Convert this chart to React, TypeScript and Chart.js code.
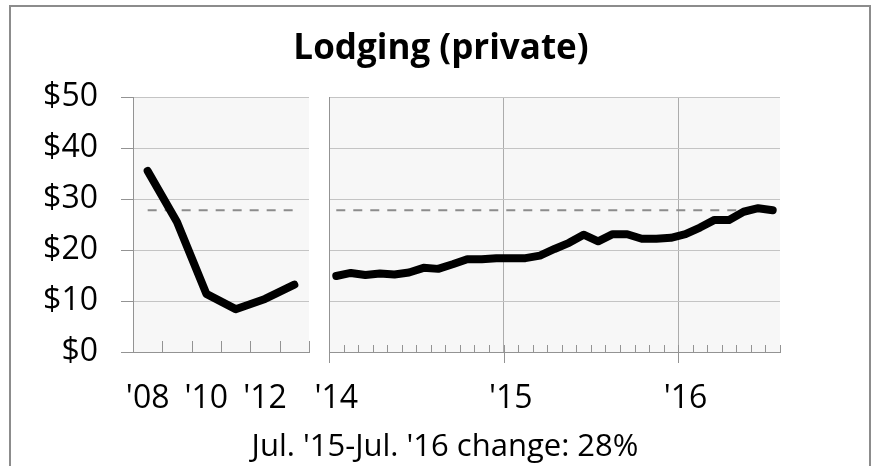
import React, { useEffect, useRef } from "react";
import { Chart, registerables } from "chart.js";

Chart.register(...registerables);

// ---------- data ----------
const titleText = "Lodging (private)";
const footnoteText = "Jul. '15-Jul. '16 change: 28%";

const yTickValues = [0, 10, 20, 30, 40, 50];

const annualCategories = ["'08", "'09", "'10", "'11", "'12", "'13"];
const annualShownTicks = ["'08", "'10", "'12"];
const annualValues = [35.5, 25.5, 11.4, 8.4, 10.4, 13.2];

const monthCategories = [
  "Jan '14", "Feb '14", "Mar '14", "Apr '14", "May '14", "Jun '14",
  "Jul '14", "Aug '14", "Sep '14", "Oct '14", "Nov '14", "Dec '14",
  "Jan '15", "Feb '15", "Mar '15", "Apr '15", "May '15", "Jun '15",
  "Jul '15", "Aug '15", "Sep '15", "Oct '15", "Nov '15", "Dec '15",
  "Jan '16", "Feb '16", "Mar '16", "Apr '16", "May '16", "Jun '16",
  "Jul '16",
];
const monthlyValues = [
  14.9, 15.5, 15.1, 15.4, 15.2, 15.6,
  16.5, 16.3, 17.2, 18.2, 18.2, 18.4,
  18.4, 18.4, 18.9, 20.2, 21.4, 23.0,
  21.7, 23.1, 23.1, 22.2, 22.2, 22.4,
  23.1, 24.4, 25.9, 25.9, 27.5, 28.2,
  27.8,
];
const yearStartCategories = ["Jan '14", "Jan '15", "Jan '16"];
const yearTickLabels = ["'14", "'15", "'16"];

const referenceLevel = 27.8;

// ---------- styles ----------
const W = 871;
const H = 466;
const FONT = "'Open Sans', 'Noto Sans', sans-serif";
const PLOT_BG = "#f7f7f7";
const GRID = "#c4c4c4";
const AXIS = "#939393";
const YEAR_GRID = "#acacac";

const panelPlugin = {
  id: "panelDeco",
  beforeDraw(chart: any, _args: any, opts: any) {
    const { ctx, chartArea: a } = chart;
    ctx.save();
    ctx.fillStyle = opts.bg;
    ctx.fillRect(a.left, a.top, a.right - a.left, a.bottom - a.top);
    ctx.restore();
  },
  afterDraw(chart: any, _args: any, opts: any) {
    const { ctx, chartArea: a } = chart;
    const xs = chart.scales.x;
    const n = chart.data.labels.length;
    const step = xs.getPixelForValue(1) - xs.getPixelForValue(0);
    const boundary = (b: number) => Math.round(xs.getPixelForValue(b) - step / 2) + 0.5;
    ctx.save();
    ctx.strokeStyle = opts.tickColor;
    ctx.lineWidth = 1;
    ctx.beginPath();
    for (let b = 1; b <= n; b++) {
      const px = boundary(b);
      ctx.moveTo(px, a.bottom);
      ctx.lineTo(px, a.bottom - opts.minorLen);
    }
    (opts.majorIdx || []).forEach((m: number) => {
      const px = boundary(m);
      ctx.moveTo(px, a.bottom);
      ctx.lineTo(px, a.bottom + opts.majorLen);
    });
    ctx.stroke();
    ctx.restore();
  },
};

function baseYScale(showLabels: boolean) {
  return {
    min: 0,
    max: 50,
    afterBuildTicks(scale: any) {
      scale.ticks = yTickValues.map((v) => ({ value: v }));
    },
    afterFit(scale: any) {
      scale.width = showLabels ? 133 : 0;
    },
    border: { display: true, color: AXIS, width: 1 },
    grid: {
      color: (c: any) => (c.tick && c.tick.value === 0 ? AXIS : GRID),
      lineWidth: 1,
      drawTicks: showLabels,
      tickLength: 12,
      tickColor: AXIS,
    },
    ticks: {
      display: showLabels,
      padding: 23,
      color: "#000",
      font: { family: FONT, size: 32 },
      callback: (v: any) => "$" + v,
    },
  };
}

function xTickFont() {
  return { family: FONT, size: 32 };
}

export default function App() {
  const leftRef = useRef<HTMLCanvasElement>(null);
  const rightRef = useRef<HTMLCanvasElement>(null);

  useEffect(() => {
    const common: any = {
      responsive: false,
      animation: false,
      devicePixelRatio: 1,
      plugins: { legend: { display: false }, tooltip: { enabled: false } },
      elements: { point: { radius: 0 } },
    };

    const left = new Chart(leftRef.current as HTMLCanvasElement, {
      type: "line",
      data: {
        labels: annualCategories,
        datasets: [
          {
            data: annualValues,
            borderColor: "#000",
            borderWidth: 8,
            borderCapStyle: "round",
            borderJoinStyle: "round",
            tension: 0,
            pointRadius: 0,
            order: 0,
          },
          {
            data: annualCategories.map(() => referenceLevel),
            borderColor: "#8c8c8c",
            borderWidth: 2,
            borderDash: [9, 8],
            pointRadius: 0,
            order: 1,
          },
        ],
      } as any,
      options: {
        ...common,
        layout: { padding: { left: 0, right: W - 309, top: 97, bottom: H - 352 - 60 } },
        scales: {
          x: {
            offset: true,
            afterFit(scale: any) {
              scale.height = 60;
            },
            border: { display: true, color: AXIS, width: 1 },
            grid: { display: false, drawTicks: false, offset: true },
            ticks: {
              autoSkip: false,
              maxRotation: 0,
              padding: 28,
              color: "#000",
              font: xTickFont(),
              callback: (_v: any, i: number) =>
                annualShownTicks.includes(annualCategories[i]) ? annualCategories[i] : "",
            },
          },
          y: baseYScale(true),
        },
        plugins: {
          ...common.plugins,
          panelDeco: { bg: PLOT_BG, tickColor: AXIS, minorLen: 11, majorIdx: [] },
        },
      } as any,
      plugins: [panelPlugin],
    });

    const majorIdx = yearStartCategories.map((c) => monthCategories.indexOf(c));

    const right = new Chart(rightRef.current as HTMLCanvasElement, {
      type: "line",
      data: {
        labels: monthCategories,
        datasets: [
          {
            data: monthlyValues,
            borderColor: "#000",
            borderWidth: 8,
            borderCapStyle: "round",
            borderJoinStyle: "round",
            tension: 0,
            pointRadius: 0,
            order: 0,
          },
          {
            data: monthCategories.map(() => referenceLevel),
            borderColor: "#8c8c8c",
            borderWidth: 2,
            borderDash: [9, 8],
            pointRadius: 0,
            order: 1,
          },
        ],
      } as any,
      options: {
        ...common,
        layout: { padding: { left: 329, right: W - 780, top: 97, bottom: H - 352 - 60 } },
        scales: {
          x: {
            offset: true,
            afterFit(scale: any) {
              scale.height = 60;
            },
            border: { display: true, color: AXIS, width: 1 },
            grid: {
              display: true,
              offset: true,
              drawTicks: false,
              lineWidth: 1,
              color: (c: any) =>
                c.type === "tick" && c.index > 0 && majorIdx.includes(c.index)
                  ? YEAR_GRID
                  : "rgba(0,0,0,0)",
            },
            ticks: {
              autoSkip: false,
              maxRotation: 0,
              padding: 28,
              color: "#000",
              font: xTickFont(),
              callback: (_v: any, i: number) => {
                const k = yearStartCategories.indexOf(monthCategories[i]);
                return k >= 0 ? yearTickLabels[k] : "";
              },
            },
          },
          y: baseYScale(false),
        },
        plugins: {
          ...common.plugins,
          panelDeco: { bg: PLOT_BG, tickColor: AXIS, minorLen: 7, majorLen: 11, majorIdx },
        },
      } as any,
      plugins: [panelPlugin],
    });

    return () => {
      left.destroy();
      right.destroy();
    };
  }, []);

  return (
    <div
      style={{
        position: "absolute",
        left: 0,
        top: 0,
        width: W,
        height: H,
        overflow: "hidden",
        background: "#fff",
        fontFamily: FONT,
      }}
    >
      <div
        style={{
          position: "absolute",
          left: 9,
          top: 5,
          width: 858,
          height: 520,
          border: "2px solid #8c8c8c",
        }}
      />
      <canvas ref={leftRef} width={W} height={H} style={{ position: "absolute", left: 0, top: 0 }} />
      <canvas ref={rightRef} width={W} height={H} style={{ position: "absolute", left: 0, top: 0 }} />
      <div
        style={{
          position: "absolute",
          left: 9,
          top: 28,
          width: 864,
          textAlign: "center",
          fontSize: 35,
          lineHeight: "35px",
          fontWeight: 700,
          color: "#000",
          whiteSpace: "nowrap",
        }}
      >
        {titleText}
      </div>
      <div
        style={{
          position: "absolute",
          left: 0,
          top: 429,
          width: 890,
          textAlign: "center",
          fontSize: 31,
          lineHeight: "31px",
          color: "#000",
          whiteSpace: "nowrap",
        }}
      >
        {footnoteText}
      </div>
    </div>
  );
}
